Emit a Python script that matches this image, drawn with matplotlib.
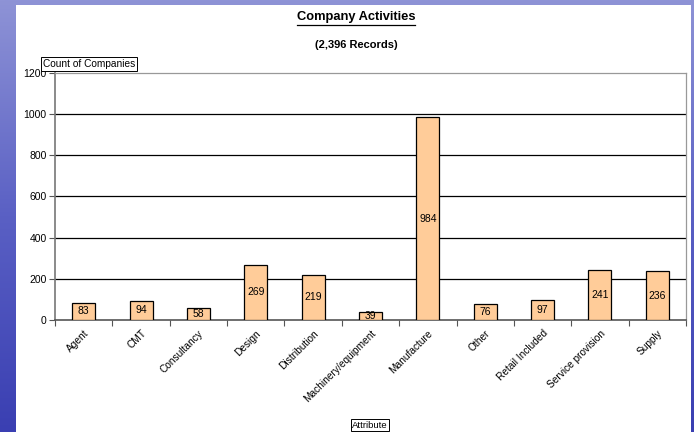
import numpy as np
import matplotlib as mpl
import matplotlib.pyplot as plt

# data
categories = ["Agent", "CMT", "Consultancy", "Design", "Distribution",
              "Machinery/equipment", "Manufacture", "Other", "Retail Included",
              "Service provision", "Supply"]
counts = [83, 94, 58, 269, 219, 39, 984, 76, 97, 241, 236]
yticks = [0, 200, 400, 600, 800, 1000, 1200]

plt.rcParams["font.family"] = ["Liberation Sans", "DejaVu Sans"]

W, H = 694, 432
fig = plt.figure(figsize=(W / 100, H / 100), dpi=100)

# blue slide background
bg = fig.add_axes([0, 0, 1, 1])
grad = np.linspace(0, 1, 256).reshape(-1, 1)
cmap = mpl.colors.LinearSegmentedColormap.from_list("bgblue", ["#3a3fb2", "#5a60c4", "#8e93d6"])
bg.imshow(grad, aspect="auto", cmap=cmap, origin="lower", extent=[0, 1, 0, 1])
bg.set_axis_off()

# white chart panel
panel = fig.add_axes([16 / W, 0, (691 - 16) / W, (H - 5) / H])
panel.set_facecolor("white")
panel.set_xticks([])
panel.set_yticks([])
for s in panel.spines.values():
    s.set_visible(False)

# plot area
x0, x1, ytop, ybot = 55, 686, 73, 320
ax = fig.add_axes([x0 / W, (H - ybot) / H, (x1 - x0) / W, (ybot - ytop) / H])
ax.set_facecolor("white")

x = np.arange(len(categories))
bars = ax.bar(x, counts, width=0.4, color="#FFCC99", edgecolor="black", linewidth=0.9, zorder=3)
for b, v in zip(bars, counts):
    ax.text(b.get_x() + b.get_width() / 2, v / 2, str(v), ha="center", va="center",
            fontsize=7.5, zorder=4)

ax.set_xlim(-0.5, len(categories) - 0.5)
ax.set_ylim(0, 1200)
ax.set_yticks(yticks)
ax.set_yticklabels([str(t) for t in yticks], fontsize=7.5)
for t in yticks[1:-1]:
    ax.axhline(t, color="black", linewidth=0.9, zorder=1)

# ticks between categories, labels at centres
ax.set_xticks(np.arange(len(categories) + 1) - 0.5)
ax.set_xticklabels([])
ax.set_xticks(x, minor=True)
ax.set_xticklabels(categories, minor=True, rotation=45, ha="right",
                   rotation_mode="anchor", fontsize=7.3)
ax.tick_params(axis="x", which="minor", length=0, pad=6)
ax.tick_params(axis="x", which="major", length=4, color="#555555", direction="out")
ax.tick_params(axis="y", length=4, color="#555555", pad=2)

for side in ["top", "right"]:
    ax.spines[side].set_color("#999999")
    ax.spines[side].set_linewidth(0.9)
ax.spines["left"].set_color("#777777")
ax.spines["bottom"].set_color("#555555")
ax.spines["left"].set_linewidth(1.2)
ax.spines["bottom"].set_linewidth(1.2)

# titles
fig.text(356 / W, 1 - 17 / H, "Company Activities", ha="center", va="center",
         fontsize=9.3, fontweight="bold")
ul = mpl.lines.Line2D([297 / W, 415 / W], [1 - 24.5 / H, 1 - 24.5 / H], color="black",
                      linewidth=0.9, transform=fig.transFigure)
fig.add_artist(ul)
fig.text(356 / W, 1 - 45 / H, "(2,396 Records)", ha="center", va="center",
         fontsize=8, fontweight="bold")

# field buttons
box = dict(boxstyle="square,pad=0.15", facecolor="white", edgecolor="black", linewidth=0.7)
fig.text(43 / W, 1 - 64 / H, "Count of Companies", ha="left", va="center",
         fontsize=7.3, bbox=box)
fig.text(370 / W, 1 - 425 / H, "Attribute", ha="center", va="center",
         fontsize=6.8, bbox=box)

fig.savefig("out.png", dpi=100)
